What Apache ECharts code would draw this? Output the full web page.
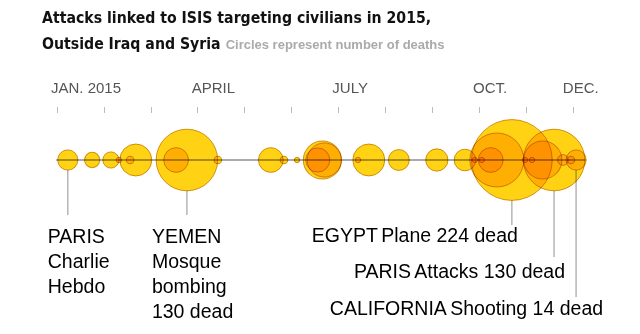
<!DOCTYPE html>
<html><head><meta charset="utf-8">
<script src="https://cdn.jsdelivr.net/npm/echarts@6/dist/echarts.min.js"></script>
<style>html,body{margin:0;padding:0;background:#fff}#c{width:640px;height:334px}</style>
</head><body><div id="c"></div>
<script>
// ---- data ----
const monthTicks = [0,1,2,3,4,5,6,7,8,9,10,11];
const monthLabelValues = [0,3,6,9,11];
const monthLabelTexts = ['JAN. 2015','APRIL','JULY','OCT.','DEC.'];
// event position in months since Jan 1 2015
const eventMonth = [0.23,0.75,1.15,1.32,1.56,1.68,2.54,2.77,3.43,4.56,4.84,5.12,5.56,5.66,5.70,6.42,6.65,7.29,8.10,8.70,8.91,9.06,9.25,9.38,9.70,9.98,10.13,10.36,10.60,10.79,10.96,11.07];
const eventDeaths = [14,8,9,1,2,35,21,130,2,21,2,1,20,50,40,1,35,15,17,16,1,1,21,100,224,1,1,50,130,4,2,14];
const annotationEvent = [0,7,24,28,31];
const annotationPlace = ['PARIS','YEMEN','EGYPT','PARIS','CALIFORNIA'];
const annotationText = [['Charlie','Hebdo'],['Mosque','bombing','130 dead'],['Plane 224 dead'],['Attacks 130 dead'],['Shooting 14 dead']];

// ---- layout (not data) ----
const annLayout = [
  {align:'left',  dx:-20, y:238, lineEnd:215},
  {align:'left',  dx:-35, y:238, lineEnd:215},
  {align:'right', dx:6,   y:237, lineEnd:225},
  {align:'right', dx:11,  y:273, lineEnd:257},
  {align:'right', dx:27,  y:310, lineEnd:297}
];
const K = 2.7; // radius px per sqrt(death)
const radius = d => K*Math.sqrt(d);

const chart = echarts.init(document.getElementById('c'), null, {renderer:'canvas'});
const xMax = 11.26;
const points = eventMonth.map((m,i)=>[m,0,eventDeaths[i]]);
const TF = '"Liberation Sans",sans-serif';

chart.setOption({
  animation:false,
  title:{
    left:42, top:6, padding:0,
    text:'{h|Attacks linked to ISIS targeting civilians in 2015,}\n{h|Outside Iraq and Syria} {s|Circles represent number of deaths}',
    textStyle:{rich:{
      h:{fontFamily:'"DejaVu Sans Condensed","Liberation Sans Narrow",sans-serif',fontWeight:'bold',fontSize:15.7,color:'#111',lineHeight:26},
      s:{fontFamily:TF,fontSize:13,color:'#aaa',lineHeight:26}
    }}
  },
  grid:{left:57,right:55,top:113,height:94},
  xAxis:[{
    type:'value',min:0,max:xMax,position:'top',
    axisLine:{show:false,onZero:false},
    splitLine:{show:false},
    axisTick:{show:true,customValues:monthTicks,length:6,lineStyle:{color:'#bbb',width:1}},
    axisLabel:{customValues:monthLabelValues,
      formatter:v=>{const i=monthLabelValues.indexOf(v);if(i<0)return '';return (v===11?'{d|':'{l|')+monthLabelTexts[i]+'}';},
      margin:17,align:'center',color:'#555',fontSize:15,fontFamily:TF,
      rich:{l:{width:12,align:'left',fontSize:15,fontFamily:TF,color:'#555'},d:{width:20,align:'left',fontSize:15,fontFamily:TF,color:'#555'}}}
  },{
    type:'value',min:0,max:xMax,position:'bottom',
    axisLine:{show:true,onZero:true,lineStyle:{color:'#aaa',width:2}},
    axisTick:{show:false},axisLabel:{show:false},splitLine:{show:false}
  }],
  yAxis:{type:'value',min:-1,max:1,show:false},
  series:[{
    type:'scatter',xAxisIndex:0,yAxisIndex:0,clip:false,
    data:points,
    symbolSize:v=>2*radius(v[2]),
    blendMode:'multiply',
    itemStyle:{color:'rgb(255,208,0)',opacity:0.92,borderColor:'rgb(205,150,20)',borderWidth:1},
    emphasis:{disabled:true},
    z:3
  }]
});

const cy = chart.convertToPixel({yAxisIndex:0},0);
const graphics = [];
annotationEvent.forEach((ei,k)=>{
  const L = annLayout[k];
  const x = chart.convertToPixel({xAxisIndex:0},eventMonth[ei]);
  const r = radius(eventDeaths[ei]);
  graphics.push({type:'line',z:1,shape:{x1:x,y1:cy+r,x2:x,y2:L.lineEnd},style:{stroke:'#b5b5b5',lineWidth:1.5}});
  let txt;
  if (annotationText[k].length>1){
    txt = '{p|'+annotationPlace[k]+'}\n'+annotationText[k].map(t=>'{t|'+t+'}').join('\n');
  } else {
    txt = '{p|'+annotationPlace[k]+'} {t|'+annotationText[k][0]+'}';
  }
  graphics.push({type:'text',z:5,x:x+L.dx,y:L.y-12.5,style:{
    text:txt,align:L.align,verticalAlign:'top',
    rich:{
      p:{fontFamily:TF,fontSize:19.5,color:'#999',lineHeight:25},
      t:{fontFamily:TF,fontSize:19.5,color:'#333',lineHeight:25}
    }
  }});
});
chart.setOption({graphic:graphics});
</script></body></html>
